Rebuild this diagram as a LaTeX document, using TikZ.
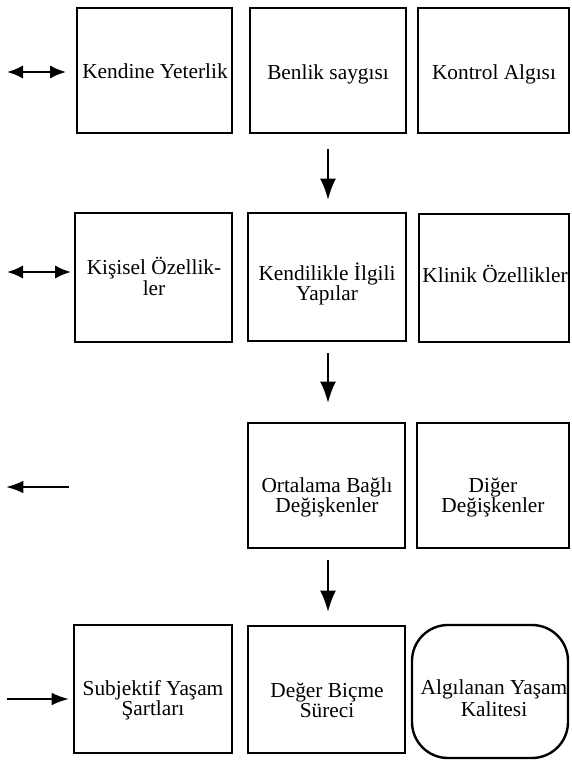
\documentclass[tikz,border=0pt]{standalone}
\usepackage{fontspec}
\setmainfont{Liberation Serif}
\usetikzlibrary{arrows.meta,fit}
\begin{document}
\begin{tikzpicture}[x=0.75pt,y=-0.75pt,
  box/.style={draw=black,line width=1.8pt,inner sep=0pt},
  rbox/.style={box,rounded corners=27pt},
  txt/.style={anchor=base,inner sep=0pt,font=\fontsize{16}{16}\selectfont},
  varrow/.style={line width=1.9pt,-{Latex[length=16pt,width=12pt]}},
  harrow/.style={line width=1.6pt,-{Latex[length=13pt,width=9.5pt]}},
  darrow/.style={line width=1.7pt,{Latex[length=12pt,width=10pt]}-{Latex[length=12pt,width=10pt]}}]
\useasboundingbox (0,0) rectangle (571,763);
% row 1
\node[box,fit={(77,8) (232,133)}] (b11) {};
\node[box,fit={(250,8) (406,133)}] (b12) {};
\node[box,fit={(418,8) (569,133)}] (b13) {};
\node[txt] (t11) at (155,79) {Kendine Yeterlik};
\node[txt] (t12) at (328,80) {Benlik saygısı};
\node[txt] (t13) at (494,80) {Kontrol Algısı};
% row 2
\node[box,fit={(75,213) (232,342)}] (b21) {};
\node[box,fit={(248,213) (406,341)}] (b22) {};
\node[box,fit={(419,214) (569,342)}] (b23) {};
\node[txt] (t21a) at (154,274) {Kişisel Özellik-};
\node[txt] (t21b) at (154,295) {ler};
\node[txt] (t22a) at (327,280) {Kendilikle İlgili};
\node[txt] (t22b) at (327,300) {Yapılar};
\node[txt] (t23) at (495,282) {Klinik Özellikler};
% row 3
\node[box,fit={(248,423) (405,548)}] (b32) {};
\node[box,fit={(417,423) (569,548)}] (b33) {};
\node[txt] (t32a) at (327,492) {Ortalama Bağlı};
\node[txt] (t32b) at (327,512) {Değişkenler};
\node[txt] (t33a) at (493,492) {Diğer};
\node[txt] (t33b) at (493,512) {Değişkenler};
% row 4
\node[box,fit={(74,625) (232,753)}] (b41) {};
\node[box,fit={(248,626) (405,753)}] (b42) {};
\node[rbox,fit={(412,625) (568,758)}] (b43) {};
\node[txt] (t41a) at (153,695) {Subjektif Yaşam};
\node[txt] (t41b) at (153,715) {Şartları};
\node[txt] (t42a) at (327,697) {Değer Biçme};
\node[txt] (t42b) at (327,717) {Süreci};
\node[txt] (t43a) at (494,694) {Algılanan Yaşam};
\node[txt] (t43b) at (494,716) {Kalitesi};
% vertical arrows
\coordinate (v1a) at (328,149); \coordinate (v1b) at (328,200);
\coordinate (v2a) at (328,353); \coordinate (v2b) at (328,403);
\coordinate (v3a) at (328,560); \coordinate (v3b) at (328,612);
\draw[varrow] (v1a) -- (v1b);
\draw[varrow] (v2a) -- (v2b);
\draw[varrow] (v3a) -- (v3b);
% left arrows
\coordinate (l1a) at (7,72); \coordinate (l1b) at (66,72);
\coordinate (l2a) at (7,272); \coordinate (l2b) at (71,272);
\coordinate (l3a) at (69,487); \coordinate (l3b) at (6,487);
\coordinate (l4a) at (7,699); \coordinate (l4b) at (69,699);
\draw[darrow] (l1a) -- (l1b);
\draw[darrow] (l2a) -- (l2b);
\draw[harrow] (l3a) -- (l3b);
\draw[harrow] (l4a) -- (l4b);
\end{tikzpicture}
\end{document}
